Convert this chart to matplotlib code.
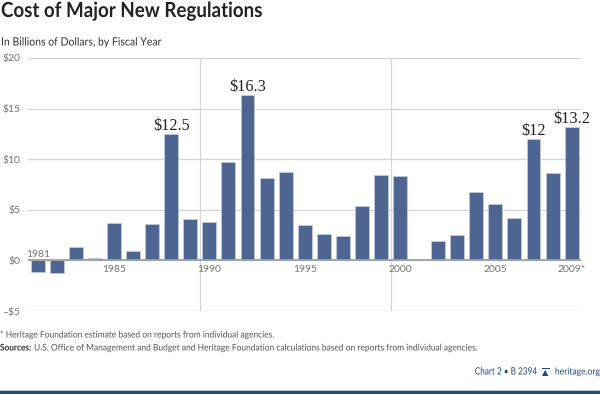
import numpy as np
from matplotlib import pyplot as plt
from matplotlib.patheffects import AbstractPathEffect
from matplotlib.transforms import Affine2D

# DATA
years = np.arange(1981, 2010)
costs = [-1.1, -1.2, 1.3, 0.2, 3.7, 0.9, 3.6, 12.5, 4.1, 3.8, 9.7, 16.3, 8.1, 8.7, 3.5,
         2.6, 2.4, 5.4, 8.4, 8.3, 0, 1.9, 2.5, 6.8, 5.6, 4.2, 12, 8.6, 13.2]
y_ticks = [-5, 0, 5, 10, 15, 20]
y_labels = ['–$5', '$0', '$5', '$10', '$15', '$20']
x_ticks = [1985, 1990, 1995, 2000, 2005, 2009]
x_labels = ['1985', '1990', '1995', '2000', '2005', '2009*']
decades = [1989.5, 1999.5]
callout_years = [1988, 1992, 2007, 2009]
callout_labels = ['$12.5', '$16.3', '$12', '$13.2']

W, H = 600, 394
BLUE = '#4d6590'
GRID = '#d6d6d6'
GREY = '#757575'
NAVY = '#1f4a7c'


class Squeeze(AbstractPathEffect):
    # condensed look: no condensed family installed, so narrow the glyphs around x0 (pixels)
    def __init__(self, factor, x0):
        super().__init__()
        self.factor = factor
        self.x0 = x0

    def draw_path(self, renderer, gc, tpath, affine, rgbFace=None):
        squeeze = Affine2D().translate(-self.x0, 0).scale(self.factor, 1).translate(self.x0, 0)
        renderer.draw_path(gc, tpath, affine + squeeze, rgbFace)


def texte(x, y, s, factor, ha='left', **kw):
    t = fig.text(x / W, 1 - y / H, s, va='center', ha=ha, **kw)
    t.set_path_effects([Squeeze(factor, x)])
    return t


plt.rcParams['font.family'] = ['Lato', 'DejaVu Sans']
fig = plt.figure(figsize=(6, 3.94), dpi=100)
ax = fig.add_axes([28 / W, 1 - 311 / H, 553 / W, 253 / H])

ax.set_xlim(1980.49, 2009.49)
ax.set_ylim(-5, 20)
for s in ax.spines.values():
    s.set_visible(False)

ax.set_axisbelow(True)
ax.set_yticks(y_ticks)
ax.set_yticklabels([l.replace('$', r'\$') for l in y_labels], fontsize=7.5, color=GREY)
ax.yaxis.grid(True, color=GRID, lw=1)
ax.tick_params(axis='y', length=0, pad=5.5)
ax.set_xticks([])

# tick labels sit just below the zero line, not at the bottom of the frame
for yr, lab in zip(x_ticks, x_labels):
    ax.text(yr, -0.85, lab, fontsize=7.5, color=GREY, ha='center', va='center')
ax.text(1981, 0.55, '1981', fontsize=7.5, color=GREY, ha='center', va='center')

for d in decades:
    ax.axvline(d, color=GRID, lw=0.9, zorder=1)

ax.bar(years, costs, width=0.73, color=BLUE, edgecolor='#c6d0e0', linewidth=0.5, zorder=2)
ax.axhline(0, color='#a0a0a0', lw=1.3, zorder=3)

for yr, lab in zip(callout_years, callout_labels):
    ax.text(yr, costs[yr - 1981] + 0.42, lab.replace('$', r'\$'), family='Liberation Serif',
            fontsize=11.7, color='#222222', ha='center', va='baseline')

# TEXTES
texte(1, 11, 'Cost of Major New Regulations', 0.9, fontsize=15, fontweight='bold', color='#222222')
texte(1, 42, 'In Billions of Dollars, by Fiscal Year', 0.92, fontsize=8.2, color='#333333')
texte(0, 335, '* Heritage Foundation estimate based on reports from individual agencies.', 0.92,
      fontsize=6.6, color='#555555')
texte(0, 348, 'Sources:', 0.9, fontsize=6.6, fontweight='bold', color='#333333')
texte(34, 348, 'U.S. Office of Management and Budget and Heritage Foundation calculations based on reports from individual agencies.',
      0.92, fontsize=6.6, color='#555555')
texte(537, 372, 'Chart 2 • B 2394', 0.82, ha='right', fontsize=7.2, color=NAVY)
texte(600, 372, 'heritage.org', 0.89, ha='right', fontsize=6.9, color=NAVY)

# petite cloche du logo
fig.text(545.5 / W, 1 - 372.5 / H, '▲', fontsize=6, color=NAVY, va='center', ha='center', family='DejaVu Sans')
fig.add_artist(plt.Rectangle((541.5 / W, 1 - 369 / H), 8.5 / W, 1.5 / H, transform=fig.transFigure, color=NAVY, lw=0))

# FOOTER RULE
fig.add_artist(plt.Rectangle((0, 0), 1, 3 / H, transform=fig.transFigure, color=NAVY, lw=0))
fig.add_artist(plt.Rectangle((0, 3 / H), 1, 1 / H, transform=fig.transFigure, color='#b9c6d6', lw=0))

fig.savefig('out.png', dpi=100)
